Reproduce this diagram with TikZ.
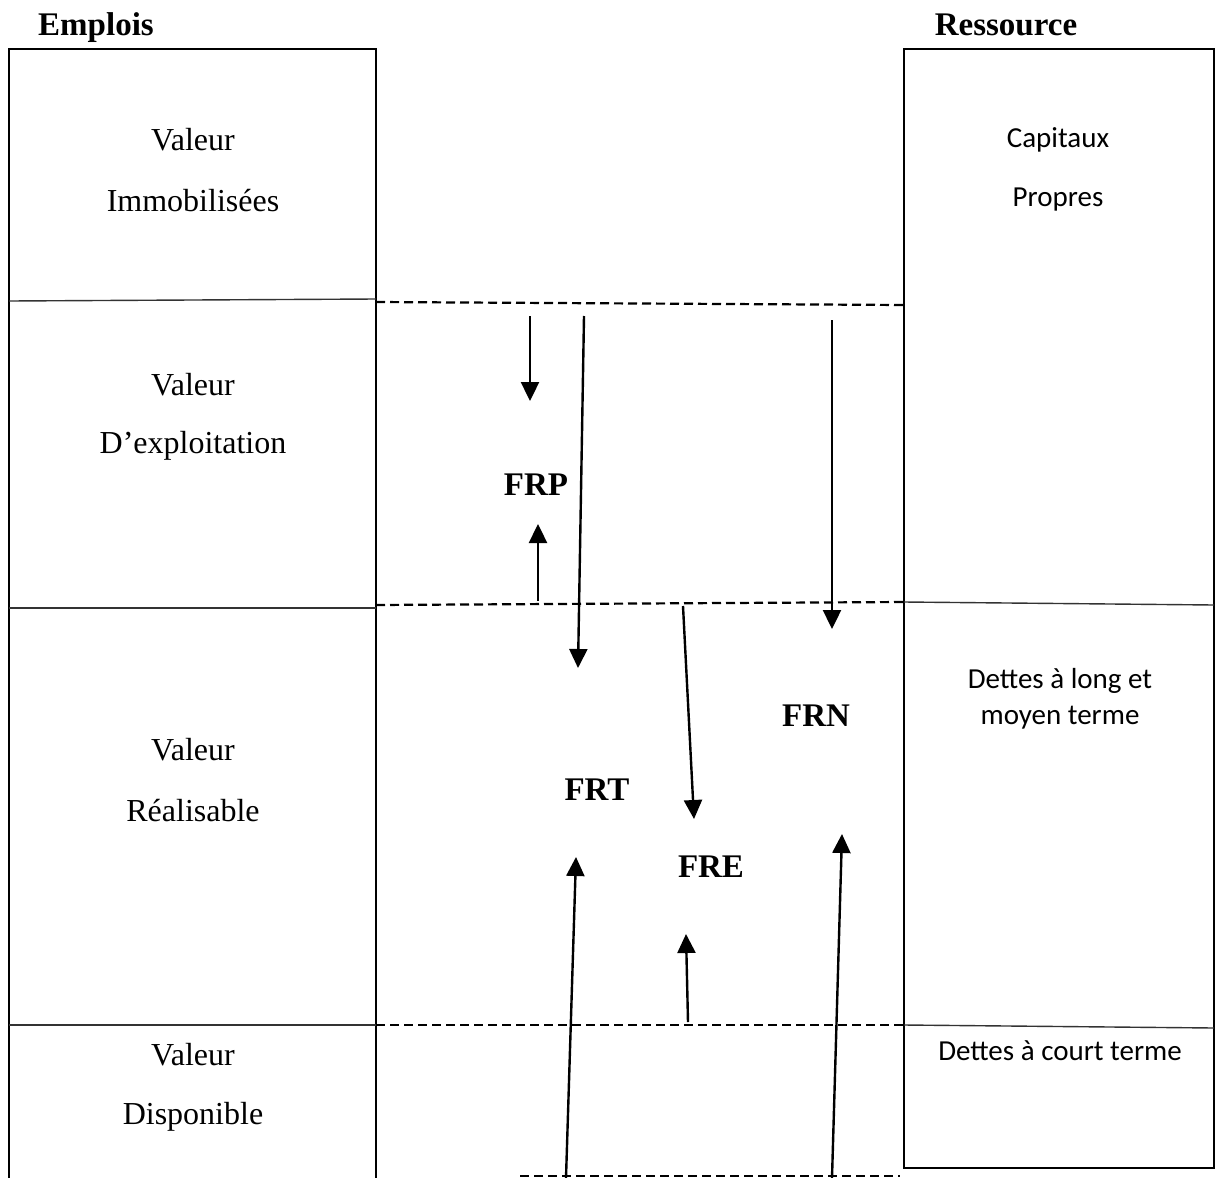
\documentclass[tikz,border=0pt]{standalone}
\usepackage{fontspec}
\setmainfont{Liberation Serif}
\newfontfamily\calib{Carlito}
\usetikzlibrary{arrows.meta}
\begin{document}
\begin{tikzpicture}[x=1pt,y=-1pt,
  frame/.style={line width=2.4pt},
  sep/.style={line width=1.4pt,black!80},
  lvl/.style={line width=2.2pt,dash pattern=on 9pt off 5pt},
  flow/.style={line width=2.4pt,-{Triangle[width=18pt,length=19pt]}},
  serif/.style={font=\fontsize{32}{38}\selectfont,inner sep=0pt},
  hdr/.style={font=\fontsize{33}{38}\selectfont\bfseries,inner sep=0pt,anchor=base},
  sans/.style={font=\calib\fontsize{29}{34}\selectfont,inner sep=0pt},
  tag/.style={font=\fontsize{33}{38}\selectfont\bfseries,inner sep=0pt}]
\useasboundingbox (0,0) rectangle (1216,1178);

% headers
\node[hdr] (emp) at (96,35) {Emplois};
\node[hdr] (res) at (1006,35) {Ressource};

% uses column (open at the bottom)
\draw[frame] (9,1178) -- (9,49) -- (376,49) -- (376,1178);
\draw[sep] (9,301) -- (376,299);
\draw[sep] (9,608) -- (376,608);
\draw[sep] (9,1025) -- (376,1025);

% resources column
\draw[frame] (904,49) rectangle (1214,1168);
\draw[sep] (904,602) -- (1214,605);
\draw[sep] (904,1025) -- (1214,1028);

% level lines between the columns
\draw[lvl] (376,302) -- (904,305);
\draw[lvl] (376,605) -- (904,602);
\draw[lvl] (376,1025) -- (904,1025);
\draw[lvl] (520,1176) -- (900,1176);

% left labels
\node[serif] (v1a) at (193,140) {Valeur};
\node[serif] (v1b) at (193,201) {Immobilisées};
\node[serif] (v2a) at (193,385) {Valeur};
\node[serif] (v2b) at (193,446) {D’exploitation};
\node[serif] (v3a) at (193,750) {Valeur};
\node[serif] (v3b) at (193,811) {Réalisable};
\node[serif] (v4a) at (193,1055) {Valeur};
\node[serif] (v4b) at (193,1117) {Disponible};

% right labels
\node[sans] (r1a) at (1058,140) {Capitaux};
\node[sans] (r1b) at (1058,200) {Propres};
\node[sans] (r2a) at (1060,681) {Dettes à long et};
\node[sans] (r2b) at (1060,718) {moyen terme};
\node[sans] (r3) at (1060,1051) {Dettes à court terme};

% working capital tags
\node[tag] (frp) at (536,485) {FRP};
\node[tag] (frt) at (597,790) {FRT};
\node[tag] (fre) at (711,867) {FRE};
\node[tag] (frn) at (816,716) {FRN};

% arrow end points
\coordinate (p1s) at (530,316);  \coordinate (p1e) at (530,401);
\coordinate (p2s) at (538,601);  \coordinate (p2e) at (538,524);
\coordinate (t1s) at (584,316);  \coordinate (t1e) at (578,668);
\coordinate (t2s) at (566,1178); \coordinate (t2e) at (576,857);
\coordinate (n1s) at (832,320);  \coordinate (n1e) at (832,629);
\coordinate (n2s) at (832,1178); \coordinate (n2e) at (842,834);
\coordinate (e1s) at (683,606);  \coordinate (e1e) at (694,819);
\coordinate (e2s) at (688,1022); \coordinate (e2e) at (686,934);

\draw[flow] (p1s) -- (p1e);
\draw[flow] (p2s) -- (p2e);
\draw[flow] (t1s) -- (t1e);
\draw[flow] (t2s) -- (t2e);
\draw[flow] (n1s) -- (n1e);
\draw[flow] (n2s) -- (n2e);
\draw[flow] (e1s) -- (e1e);
\draw[flow] (e2s) -- (e2e);
\end{tikzpicture}
\end{document}
